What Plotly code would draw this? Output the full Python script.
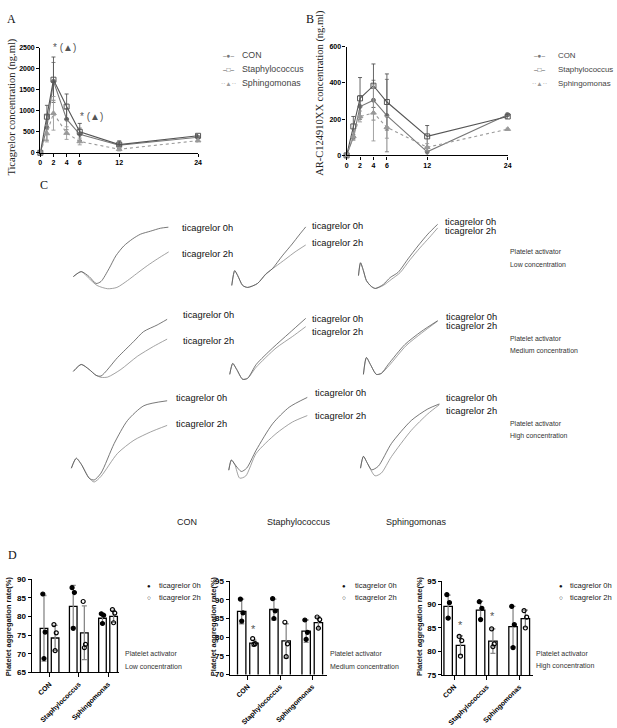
import plotly.graph_objects as go

# ---------------- DATA ----------------
times = [0, 1, 2, 4, 6, 12, 24]
time_ticks = [0, 2, 4, 6, 12, 24]

a_con = [0, 600, 1700, 800, 440, 180, 370]
a_con_sd = [0, 300, 450, 250, 150, 80, 30]
a_staph = [0, 860, 1740, 1100, 500, 195, 405]
a_staph_sd = [0, 270, 540, 300, 200, 90, 30]
a_sphingo = [0, 460, 940, 470, 270, 85, 290]
a_sphingo_sd = [0, 200, 400, 150, 80, 40, 30]

b_con = [0, 100, 270, 305, 220, 20, 225]
b_con_sd = [0, 15, 60, 110, 200, 20, 10]
b_staph = [0, 160, 315, 385, 295, 105, 215]
b_staph_sd = [0, 55, 115, 120, 155, 60, 10]
b_sphingo = [0, 105, 215, 235, 155, 45, 145]
b_sphingo_sd = [0, 20, 30, 155, 60, 20, 5]

series_names = ["CON", "Staphylococcus", "Sphingomonas"]

# Panel C aggregation traces (time %, aggregation %)
low_con_0h_t = [6.7, 14.3, 21.9, 28.6, 33.3, 41, 47.6, 55.2, 63.5, 71.4, 81, 90.5, 98.1]
low_con_0h_v = [21.6, 28.4, 21.6, 12.2, 14.9, 32.4, 50, 63.5, 73, 79.7, 83.8, 87.8, 89.2]
low_con_2h_t = [6.7, 14.3, 21.9, 29.5, 39.7, 48.6, 58.8, 67.6, 77.8, 87.6, 98.4]
low_con_2h_v = [21.6, 28.4, 18.9, 9.5, 5, 6.8, 16.2, 25.7, 36.5, 45.9, 55.4]
low_sta_0h_t = [4.9, 8.5, 12.2, 18.3, 24.4, 36.6, 46.3, 54.9, 67.1, 79.3, 87.8, 96]
low_sta_0h_v = [9.5, 29.7, 23, 9.5, 6.8, 12.2, 24.3, 32.4, 50, 66.2, 78.4, 89.6]
low_sta_2h_t = [4.9, 8.5, 12.2, 18.3, 24.4, 36.6, 47.2, 58.5, 71.6, 82.9, 96]
low_sta_2h_v = [9.5, 29.7, 23, 9.5, 6.8, 12.2, 25.7, 35.1, 45.9, 55.4, 64.9]
low_sph_0h_t = [2.3, 4.7, 8.1, 11.6, 17.4, 22.1, 31.4, 39.5, 48.8, 60.5, 72.1, 83.7, 95.3]
low_sph_0h_v = [23, 40.5, 29.7, 16.2, 8.1, 5.4, 10.8, 20.3, 27.4, 45.9, 63.5, 79.7, 93.2]
low_sph_2h_t = [2.3, 4.7, 8.1, 11.6, 17.4, 22.1, 31.4, 40.7, 51.2, 62.8, 74.4, 86, 95.3]
low_sph_2h_v = [23, 40.5, 29.7, 16.2, 8.1, 5.4, 9.5, 17.6, 27, 44.6, 60.8, 75.7, 88.2]

med_con_0h_t = [6.7, 14.3, 21.9, 28.6, 33.3, 49.2, 64.8, 74.3, 87.3, 96.9]
med_con_0h_v = [14.3, 24.3, 17.1, 8.6, 7.6, 34.3, 57.6, 71.9, 81.4, 89.6]
med_con_2h_t = [6.7, 14.3, 21.9, 28.6, 33.3, 39.7, 52.4, 68.3, 83.8, 96.9]
med_con_2h_v = [14.3, 24.3, 17.1, 8.6, 5.7, 6.1, 17.1, 36.1, 50.4, 61]
med_sta_0h_t = [2.4, 6.1, 11, 18.3, 24.4, 35, 55.2, 75.6, 96]
med_sta_0h_v = [10, 25.7, 17.1, 2.9, 4.3, 24.3, 48.1, 69.6, 91]
med_sta_2h_t = [2.4, 6.1, 11, 18.3, 24.4, 35, 59.4, 79.6, 96]
med_sta_2h_v = [10, 25.7, 17.1, 2.9, 4.3, 20.4, 48.1, 64.7, 79]
med_sph_0h_t = [8.1, 11.6, 16.3, 23.3, 29.1, 37.2, 56.6, 75.9, 95.3]
med_sph_0h_v = [10, 34.3, 24.3, 10, 11.4, 24.3, 52.9, 71.9, 87.6]
med_sph_2h_t = [8.1, 11.6, 16.3, 23.3, 29.1, 38.4, 58.1, 76.7, 95.3]
med_sph_2h_v = [10, 34.3, 24.3, 10, 11.4, 22.9, 51.4, 70, 87.1]

hig_con_0h_t = [4.8, 9.5, 14.3, 21.9, 26.7, 33.3, 46, 58.8, 74.6, 96.9]
hig_con_0h_v = [16.3, 27.2, 20.7, 5.4, 3.3, 10.9, 43.5, 68.8, 85.1, 90.5]
hig_con_2h_t = [4.8, 9.5, 14.3, 21.9, 26.7, 33.3, 49.2, 65, 81, 96.9]
hig_con_2h_v = [16.3, 27.2, 20.7, 5.4, 1.1, 7.3, 32.6, 47.1, 56.2, 63.4]
hig_sta_0h_t = [1.2, 4.5, 8.5, 16.7, 23.2, 35, 55.2, 75.6, 97.9]
hig_sta_0h_v = [14.1, 25.3, 20.7, 12.7, 16.3, 36.2, 65.2, 83.4, 94.2]
hig_sta_2h_t = [1.2, 4.5, 8.5, 14.6, 22, 35, 59.4, 79.6, 97.9]
hig_sta_2h_v = [14.1, 25.3, 20.7, 5.4, 7.6, 32.6, 54.3, 67.1, 74.2]
hig_sph_0h_t = [4.7, 8.1, 12.8, 17.8, 25.6, 41, 64.3, 83.7, 97.3]
hig_sph_0h_v = [16.3, 29.3, 21.7, 14.5, 18.5, 43.5, 68.8, 81.5, 87]
hig_sph_2h_t = [4.7, 8.1, 12.8, 21.7, 29.1, 41, 64.3, 83.7, 97.3]
hig_sph_2h_v = [16.3, 29.3, 21.7, 7.9, 10.9, 29, 57.9, 76.1, 86.2]

# Panel D
groups = ["CON", "Staphylococcus", "Sphingomonas"]
d1_bar_0h = [76.8, 82.7, 79.5]
d1_err_0h = [8.8, 5.6, 1.3]
d1_bar_2h = [74.2, 75.6, 80.0]
d1_err_2h = [3.4, 7.2, 1.6]
d1_pts_0h = [[86.0, 75.8, 68.7], [87.7, 86.4, 76.8], [80.7, 80.3, 78.1]]
d1_pts_2h = [[77.8, 75.6, 70.8], [84.0, 72.5, 71.6], [81.8, 80.9, 78.3]]

d2_bar_0h = [86.9, 87.4, 81.6]
d2_err_0h = [3.3, 2.8, 3.0]
d2_bar_2h = [78.4, 79.0, 83.9]
d2_err_2h = [0.8, 4.6, 1.5]
d2_pts_0h = [[90.2, 86.5, 84.3], [90.3, 87.0, 85.0], [84.6, 81.3, 79.4]]
d2_pts_2h = [[79.6, 78.3, 78.1], [84.0, 78.2, 74.8], [85.4, 84.7, 82.4]]

d3_bar_0h = [89.6, 88.8, 85.3]
d3_err_0h = [2.4, 1.9, 4.3]
d3_bar_2h = [81.3, 82.2, 87.0]
d3_err_2h = [2.0, 2.6, 1.8]
d3_pts_0h = [[92.1, 90.4, 87.1], [90.6, 89.2, 86.8], [89.6, 85.7, 80.8]]
d3_pts_2h = [[83.2, 82.3, 79.0], [84.8, 81.6, 81.0], [88.7, 87.3, 85.0]]

# ---------------- LAYOUT HELPERS ----------------
W, H = 617, 728
def px(x):
    return x / W
def py(y):
    return 1 - y / H

SANS = "Liberation Sans"
SERIF = "Liberation Serif"
annotations = []
def ann(text, x, y, size=9, color="#222", xanchor="left", family=SANS, angle=0, weight="normal"):
    annotations.append(dict(text=text, x=px(x), y=py(y), xref="paper", yref="paper",
                            xanchor=xanchor, yanchor="middle", showarrow=False, textangle=angle,
                            borderpad=0,
                            font=dict(family=family, size=size, color=color, weight=weight)))

fig = go.Figure()
layout = {}

def axis_style(dom, rng, tickvals=None, anchor=None, ticksize=7):
    d = dict(domain=dom, range=rng, showline=True, linecolor="black", linewidth=1.3,
             ticks="outside", ticklen=3, tickwidth=1.3, tickcolor="black", showgrid=False,
             zeroline=False, tickfont=dict(family=SANS, size=ticksize, color="black", weight="bold"),
             anchor=anchor)
    if tickvals is not None:
        d["tickvals"] = tickvals
        d["tickmode"] = "array"
    return d

# ---------------- PANEL A & B ----------------
line_specs = [
    ("#777777", "solid", "circle", "#777777", 4),
    ("#555555", "solid", "square-open", "#555555", 5),
    ("#999999", "dot", "triangle-up", "#999999", 5),
]

def add_pk(xa, ya, vals, sds):
    for (color, dash, sym, mcol, msz), v, sd, name in zip(line_specs, vals, sds, series_names):
        fig.add_trace(go.Scatter(
            x=times, y=v, name=name, mode="lines+markers", xaxis=xa, yaxis=ya,
            line=dict(color=color, width=1.1, dash=dash),
            marker=dict(symbol=sym, size=msz, color=mcol, line=dict(color=mcol, width=1)),
            error_y=dict(type="data", array=sd, color=color, thickness=0.9, width=2),
            cliponaxis=False, showlegend=False))

add_pk("x", "y", [a_con, a_staph, a_sphingo], [a_con_sd, a_staph_sd, a_sphingo_sd])
layout["xaxis"] = axis_style([px(38.7), px(198)], [0, 24], time_ticks, "y")
layout["yaxis"] = axis_style([py(150.7), py(44.3)], [0, 2500], [0, 500, 1000, 1500, 2000, 2500], "x")

add_pk("x2", "y2", [b_con, b_staph, b_sphingo], [b_con_sd, b_staph_sd, b_sphingo_sd])
layout["xaxis2"] = axis_style([px(348), px(510.7)], [0, 24], time_ticks, "y2")
layout["yaxis2"] = axis_style([py(153.3), py(43.3)], [0, 600], [0, 200, 400, 600], "x2")

# significance marks on A
annotations.append(dict(text="* (▲)", x=1.7, y=2500, xref="x", yref="y", xanchor="left",
                        yanchor="middle", showarrow=False,
                        font=dict(family=SANS, size=10, color="#555")))
annotations.append(dict(text="* (▲)", x=5.7, y=860, xref="x", yref="y", xanchor="left",
                        yanchor="middle", showarrow=False,
                        font=dict(family=SANS, size=10, color="#555")))

ann("A", 4, 15, 12, "#111", family=SERIF)
ann("B", 306, 15, 12, "#111", family=SERIF)
ann("Ticagrelor concentration (ng.ml)", 10, 104, 10.5, "#222", "center", SERIF, -90)
ann("AR-C124910XX concentration (ng.ml)", 321, 90, 10.5, "#222", "center", SERIF, -90)

leg_syms = ["–●–", "–□–", "··▲··"]
leg_cols = ["#777", "#555", "#999"]
for i, name in enumerate(series_names):
    yy = [52, 66, 80][i]
    ann(leg_syms[i], 229, yy, 6.5, leg_cols[i], "center")
    ann(name, 241, yy, 8.8, "#444")
    ann(leg_syms[i], 543, yy, 6.5, leg_cols[i], "center")
    ann(name, 560.5, yy, 7.9, "#444")

# ---------------- PANEL C ----------------
cells = [
    [(low_con_0h_t, low_con_0h_v, low_con_2h_t, low_con_2h_v),
     (low_sta_0h_t, low_sta_0h_v, low_sta_2h_t, low_sta_2h_v),
     (low_sph_0h_t, low_sph_0h_v, low_sph_2h_t, low_sph_2h_v)],
    [(med_con_0h_t, med_con_0h_v, med_con_2h_t, med_con_2h_v),
     (med_sta_0h_t, med_sta_0h_v, med_sta_2h_t, med_sta_2h_v),
     (med_sph_0h_t, med_sph_0h_v, med_sph_2h_t, med_sph_2h_v)],
    [(hig_con_0h_t, hig_con_0h_v, hig_con_2h_t, hig_con_2h_v),
     (hig_sta_0h_t, hig_sta_0h_v, hig_sta_2h_t, hig_sta_2h_v),
     (hig_sph_0h_t, hig_sph_0h_v, hig_sph_2h_t, hig_sph_2h_v)],
]
col_box = [(65, 170), (228, 310), (358, 444)]
row_box = [(218, 292), (312, 382), (393, 485)]
idx = 3
for r in range(3):
    for c in range(3):
        t0, v0, t2, v2 = cells[r][c]
        xa, ya = f"x{idx}", f"y{idx}"
        fig.add_trace(go.Scatter(x=t2, y=v2, mode="lines", xaxis=xa, yaxis=ya,
                                 line=dict(color="#8a8a8a", width=0.8, shape="spline", smoothing=0.7),
                                 showlegend=False))
        fig.add_trace(go.Scatter(x=t0, y=v0, mode="lines", xaxis=xa, yaxis=ya,
                                 line=dict(color="#555", width=0.8, shape="spline", smoothing=0.7),
                                 showlegend=False))
        layout[f"xaxis{idx}"] = dict(domain=[px(col_box[c][0]), px(col_box[c][1])], range=[0, 100],
                                     visible=False, anchor=ya)
        layout[f"yaxis{idx}"] = dict(domain=[py(row_box[r][1]), py(row_box[r][0])], range=[0, 100],
                                     visible=False, anchor=xa)
        idx += 1

c_labels = [
    [(181, 227, 181, 253), (311.7, 225, 311.7, 242), (446.7, 220.7, 446.7, 230)],
    [(181.7, 315, 181.7, 341.7), (311.7, 319.3, 311.7, 332.3), (447, 316.7, 447, 325.7)],
    [(175, 399.3, 175, 425), (315, 394, 315, 417.3), (447, 399.3, 447, 411.7)],
]
for r in range(3):
    for c in range(3):
        x0, y0, x2, y2 = c_labels[r][c]
        ann("ticagrelor 0h", x0, y0, 9.3, "#111")
        ann("ticagrelor 2h", x2, y2, 9.3, "#111")

ann("C", 37, 183, 12, "#111", family=SERIF)
conc_labels = ["Low concentration", "Medium concentration", "High concentration"]
for yy, lab in zip([251, 338.7, 425], conc_labels):
    ann("Platelet activator", 512, yy, 6.9, "#333")
    ann(lab, 512, yy + 12.6, 6.9, "#333")
for xx, lab in zip([187, 300, 419], groups):
    ann(lab, xx, 524, 9, "#222", "center")

# ---------------- PANEL D ----------------
def add_bars(n, bar0, err0, bar2, err2, pts0, pts2, xdom, ydom, xr, yr, ytick):
    xa, ya = f"x{n}", f"y{n}"
    off = 0.19
    xs0 = [i + 1 - off for i in range(3)]
    xs2 = [i + 1 + off for i in range(3)]
    for xs, b, e in [(xs0, bar0, err0), (xs2, bar2, err2)]:
        fig.add_trace(go.Bar(x=xs, y=b, width=0.26, xaxis=xa, yaxis=ya,
                             marker=dict(color="white", line=dict(color="black", width=1.3)),
                             error_y=dict(type="data", array=e, color="#888", thickness=1.3, width=2.5),
                             showlegend=False))
    jit = [-0.04, 0.04, 0.0]
    for xs, pts, sym in [(xs0, pts0, "circle"), (xs2, pts2, "circle-open")]:
        px_, py_ = [], []
        for g in range(3):
            for k, v in enumerate(pts[g]):
                px_.append(xs[g] + jit[k])
                py_.append(v)
        fig.add_trace(go.Scatter(x=px_, y=py_, mode="markers", xaxis=xa, yaxis=ya,
                                 marker=dict(symbol=sym, size=4, color="black",
                                             line=dict(color="black", width=1.2)),
                                 cliponaxis=False, showlegend=False))
    xd = axis_style(xdom, xr, [1, 2, 3], ya, 7)
    xd.update(ticktext=groups, tickangle=-45, ticklen=4)
    layout[f"xaxis{n}"] = xd
    layout[f"yaxis{n}"] = axis_style(ydom, yr, ytick, xa, 8)

add_bars(12, d1_bar_0h, d1_err_0h, d1_bar_2h, d1_err_2h, d1_pts_0h, d1_pts_2h,
         [px(30), px(118.3)], [py(676.7), py(582.3)], [0.39, 3.38], [65, 90], [65, 70, 75, 80, 85, 90])
add_bars(13, d2_bar_0h, d2_err_0h, d2_bar_2h, d2_err_2h, d2_pts_0h, d2_pts_2h,
         [px(230), px(328.3)], [py(679), py(584.3)], [0.44, 3.46], [70, 95], [70, 75, 80, 85, 90, 95])
add_bars(14, d3_bar_0h, d3_err_0h, d3_bar_2h, d3_err_2h, d3_pts_0h, d3_pts_2h,
         [px(444.3), px(536.7)], [py(679.3), py(584.3)], [0.62, 3.44], [75, 95], [75, 80, 85, 90, 95])

# stars in D
for xa, ya, xv, yv in [("x13", "y13", 1.19, 82.3), ("x14", "y14", 1.19, 85.6), ("x14", "y14", 2.19, 87.6)]:
    annotations.append(dict(text="*", x=xv, y=yv, xref=xa, yref=ya, showarrow=False,
                            font=dict(family=SANS, size=11, color="#555")))

ann("D", 5, 558, 12, "#111", family=SERIF)
for xlab, xb, xt in [(6, 148.3, 158), (213, 345.7, 355.5), (421, 564.3, 573)]:
    ann("Platelet aggregation rate(%)", xlab, 630, 7.5, "#111", "center", SANS, -90, "bold")
    ann("●", xb, 589, 6, "#111", "center")
    ann("○", xb, 601, 6.5, "#111", "center")
    ann("ticagrelor 0h", xt, 589, 7.6, "#222")
    ann("ticagrelor 2h", xt, 601, 7.6, "#222")
for xx, lab in [(123, "Low concentration"), (330, "Medium concentration"), (538.3, "High concentration")]:
    ann("Platelet activator", xx, 657.7, 7, "#333")
    ann(lab, xx, 670.3, 7, "#333")

fig.update_layout(width=W, height=H, margin=dict(l=0, r=0, t=0, b=0),
                  paper_bgcolor="white", plot_bgcolor="white",
                  showlegend=False, barmode="overlay", annotations=annotations, **layout)
fig.write_html("out.html", config={"displayModeBar": False},
               post_script="document.body.style.margin='0px';document.body.style.padding='0px';")
